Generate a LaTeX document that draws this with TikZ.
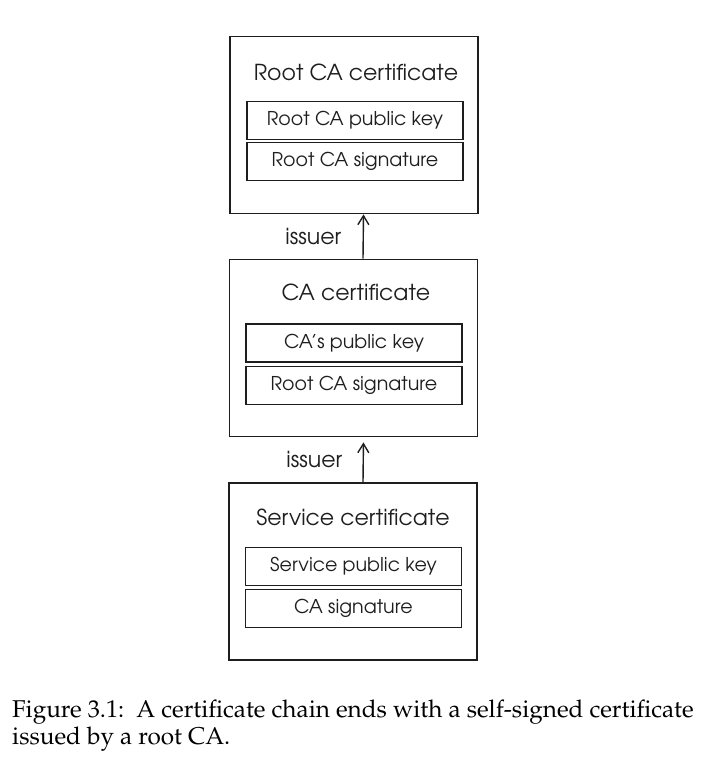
\documentclass[tikz,border=0pt]{standalone}
\usepackage[T1]{fontenc}
\usepackage{tikz}
\usetikzlibrary{arrows.meta, positioning}

\definecolor{ink}{HTML}{1E1E1E}

\begin{document}
\begin{tikzpicture}[
    x=1pt, y=-1pt,
    node distance=2pt,
    certbox/.style={rectangle, draw=ink, line width=1.8pt, minimum width=248pt, minimum height=177pt, inner sep=0pt},
    fieldbox/.style={rectangle, draw=ink, line width=1.3pt, minimum width=216pt, minimum height=38pt, inner sep=0pt, font=\fontfamily{pag}\fontsize{19}{21}\selectfont, text=ink},
    title/.style={font=\fontfamily{pag}\fontsize{22}{24}\selectfont, text=ink},
    label/.style={font=\fontfamily{pag}\fontsize{22}{24}\selectfont, text=ink},
    arrow/.style={-{Straight Barb[length=9pt, width=11pt]}, line width=1.4pt, ink}
]
\useasboundingbox (0,0) rectangle (707,771);

% root CA
\node[certbox] (root) at (354,125) {};
\node[title] (roottitle) at (356,72) {Root CA certificate};
\node[fieldbox] (rootkey) at (355,120.5) {Root CA public key};
\node[fieldbox, below=2pt of rootkey] (rootsig) {Root CA signature};

% intermediate CA
\node[certbox] (ca) at (353.5,348) {};
\node[title] (catitle) at (356,292) {CA certificate};
\node[fieldbox] (cakey) at (354,343) {CA's public key};
\node[fieldbox, below=3pt of cakey] (casig) {Root CA signature};

% service
\node[certbox] (svc) at (353,571.5) {};
\node[title] (svctitle) at (353,517) {Service certificate};
\node[fieldbox] (svckey) at (353.5,566.5) {Service public key};
\node[fieldbox, below=3pt of svckey] (svcsig) {CA signature};

\draw[arrow] ([xshift=9.5pt]ca.north) -- node[label, midway, left=18pt] {issuer} ([xshift=9.5pt]root.south);
\draw[arrow, shorten >=5pt] ([xshift=10pt]svc.north) -- node[label, midway, left=17pt] {issuer} ([xshift=10pt]ca.south);

% caption
\node[anchor=north west, align=left, inner sep=0pt, font=\fontfamily{ppl}\fontsize{24.3}{27}\selectfont] (caption) at (12,700)
  {Figure 3.1:\enspace A certificate chain ends with a self-signed certificate\\issued by a root CA.};
\end{tikzpicture}
\end{document}
